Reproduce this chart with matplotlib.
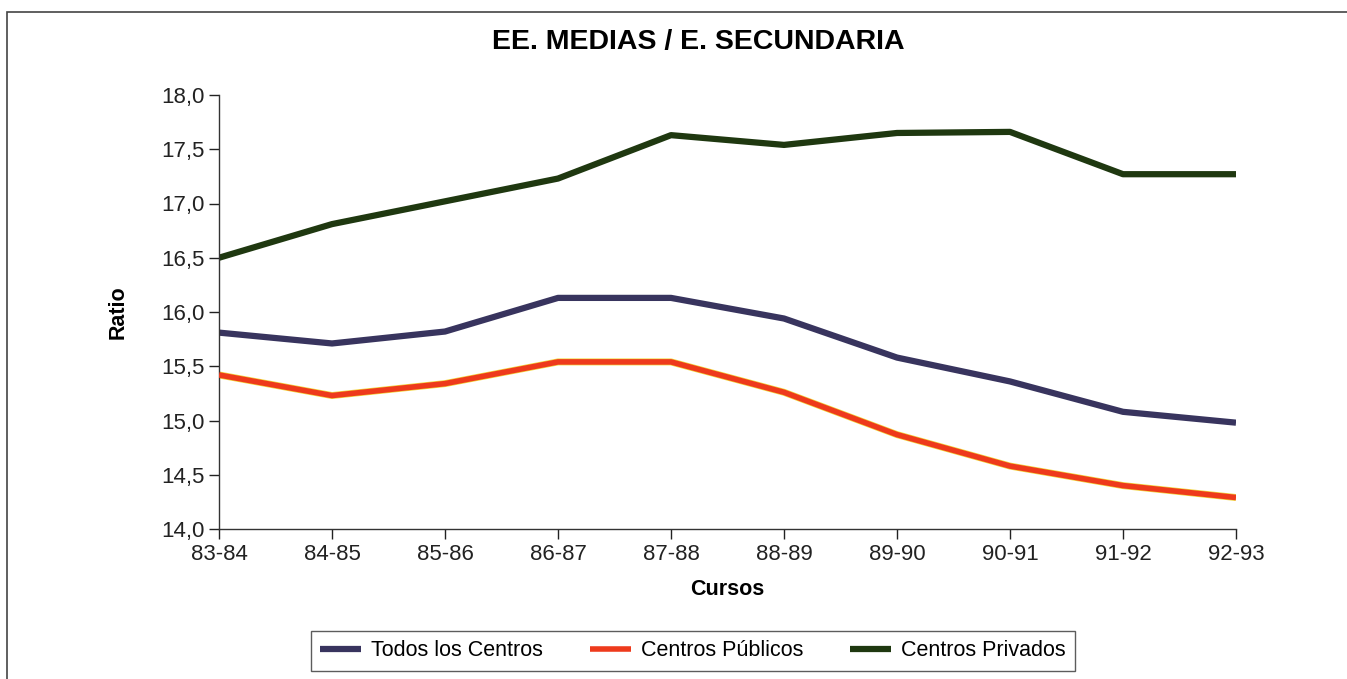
import matplotlib
matplotlib.use("Agg")
import matplotlib.pyplot as plt
from matplotlib.patches import Rectangle
from matplotlib.ticker import FuncFormatter

plt.rcParams['font.family'] = ['Liberation Sans', 'DejaVu Sans']

cursos = ["83-84", "84-85", "85-86", "86-87", "87-88", "88-89", "89-90", "90-91", "91-92", "92-93"]
todos = [15.81, 15.71, 15.82, 16.13, 16.13, 15.94, 15.58, 15.36, 15.08, 14.98]
publicos = [15.42, 15.23, 15.34, 15.54, 15.54, 15.26, 14.87, 14.58, 14.40, 14.29]
privados = [16.50, 16.81, 17.02, 17.23, 17.63, 17.54, 17.65, 17.66, 17.27, 17.27]

fig = plt.figure(figsize=(13.47, 6.79), dpi=100)
ax = fig.add_axes([219/1347, 1-529/679, (1236-219)/1347, (529-95)/679])

x = list(range(len(cursos)))
ax.plot(x, todos, color="#38345e", lw=4.5, solid_capstyle='butt', label="Todos los Centros")
ax.plot(x, publicos, color="#f2d43a", lw=5.0, solid_capstyle='butt', zorder=2)
ax.plot(x, publicos, color="#ee3a1c", lw=4.0, solid_capstyle='butt', label="Centros Públicos", zorder=3)
ax.plot(x, privados, color="#1f3810", lw=4.5, solid_capstyle='butt', label="Centros Privados")

ax.set_xlim(0, len(cursos)-1)
ax.set_ylim(14.0, 18.0)
ax.set_xticks(x)
ax.set_xticklabels(cursos)
ax.set_yticks([14.0, 14.5, 15.0, 15.5, 16.0, 16.5, 17.0, 17.5, 18.0])
ax.yaxis.set_major_formatter(FuncFormatter(lambda v, p: f"{v:.1f}".replace(".", ",")))
for s in ["top", "right"]:
    ax.spines[s].set_visible(False)
for s in ["left", "bottom"]:
    ax.spines[s].set_color("#333333")
    ax.spines[s].set_linewidth(1.0)
ax.tick_params(axis='both', labelsize=16, colors="#222222", length=7, width=1, direction='out')
ax.tick_params(axis='x', pad=4)
ax.tick_params(axis='y', pad=3)

ax.set_xlabel("Cursos", fontsize=15.5, fontweight='bold', labelpad=10)
ax.set_ylabel("Ratio", fontsize=15.5, fontweight='bold', labelpad=24)

fig.text(698/1347, 1-42/679, "EE. MEDIAS / E. SECUNDARIA", ha='center', va='center',
         fontsize=20.5, fontweight='bold')

leg = fig.legend(loc='center', bbox_to_anchor=(693/1347, 1-651/679), ncol=3, fontsize=15.5,
                 frameon=True, fancybox=False, edgecolor="#333333", handlelength=1.9,
                 columnspacing=2.2, borderpad=0.45, handletextpad=0.45)
leg.get_frame().set_linewidth(1.0)

fig.patches.append(Rectangle((7/1347, -0.05), 1.1, 1-12/679+0.05, transform=fig.transFigure,
                             fill=False, edgecolor="#444444", lw=1.2))

fig.savefig("out.png", dpi=100)
